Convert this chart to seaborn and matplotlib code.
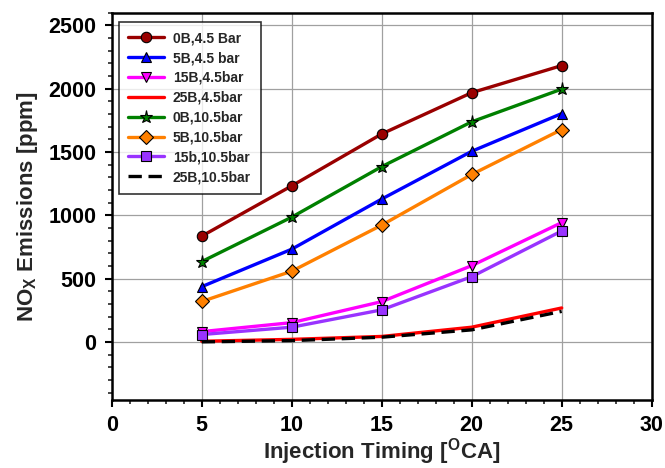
import numpy as np
import pandas as pd
import matplotlib
matplotlib.use("Agg")
import matplotlib.pyplot as plt
import seaborn as sns

# Injection timing [deg CA]
timing = [5, 10, 15, 20, 25]

# NOx emissions [ppm]
nox_0b_45 = [835, 1232, 1642, 1968, 2182]
nox_5b_45 = [436, 732, 1128, 1505, 1803]
nox_15b_45 = [81, 152, 318, 602, 942]
nox_25b_45 = [5, 20, 43, 116, 268]
nox_0b_105 = [634, 985, 1384, 1738, 1996]
nox_5b_105 = [319, 558, 922, 1322, 1677]
nox_15b_105 = [58, 116, 253, 515, 876]
nox_25b_105 = [0, 10, 37, 95, 241]

labels = ["0B,4.5 Bar", "5B,4.5 bar", "15B,4.5bar", "25B,4.5bar",
          "0B,10.5bar", "5B,10.5bar", "15b,10.5bar", "25B,10.5bar"]
series = [nox_0b_45, nox_5b_45, nox_15b_45, nox_25b_45,
          nox_0b_105, nox_5b_105, nox_15b_105, nox_25b_105]

# style per series: colour, marker, linestyle
styles = [
    ("#990000", "o", "-"),
    ("#0000FF", "^", "-"),
    ("#FF00FF", "v", "-"),
    ("#FF0000", None, "-"),
    ("#008000", "*", "-"),
    ("#FF8000", "D", "-"),
    ("#9933FF", "s", "-"),
    ("#000000", None, (0, (4, 2))),
]

sns.set_style("white")
plt.rcParams["font.family"] = ["Liberation Sans", "DejaVu Sans"]
plt.rcParams["font.weight"] = "bold"
plt.rcParams["mathtext.fontset"] = "custom"
plt.rcParams["mathtext.rm"] = "Liberation Sans:bold"
plt.rcParams["mathtext.bf"] = "Liberation Sans:bold"
plt.rcParams["mathtext.default"] = "bf"

fig = plt.figure(figsize=(6.65, 4.68), dpi=100)
ax = fig.add_axes([0.168, 0.145, 0.812, 0.828])

for lab, vals, (col, mk, ls) in zip(labels, series, styles):
    df = pd.DataFrame({"timing": timing, "nox": vals})
    ms = 9.5 if mk == "*" else 7.5
    sns.lineplot(data=df, x="timing", y="nox", ax=ax, color=col, lw=2.4,
                 linestyle=ls, marker=mk, markersize=ms, markeredgecolor="black",
                 markeredgewidth=0.8, label=lab)

ax.set_xlim(0, 30)
ax.set_ylim(-460, 2600)
ax.set_xticks(np.arange(0, 31, 5))
ax.set_xticks(np.arange(0, 31, 1), minor=True)
ax.set_yticks(np.arange(0, 2501, 500))
ax.set_yticks(np.arange(-400, 2601, 100), minor=True)
ax.grid(True, which="major", color="#a0a0a0", lw=0.9)
ax.tick_params(which="major", direction="out", length=5, width=1.5, labelsize=15.5,
               bottom=True, left=True, colors="black", pad=6)
ax.tick_params(which="minor", direction="out", length=3, width=1.2,
               bottom=True, left=True)
for lbl in ax.get_xticklabels() + ax.get_yticklabels():
    lbl.set_fontweight("bold")
for sp in ax.spines.values():
    sp.set_color("black")
    sp.set_linewidth(1.8)

ax.set_xlabel(r"Injection Timing [$^{O}$CA]", fontsize=16, fontweight="bold", labelpad=0)
ax.set_ylabel(r"NO$_{X}$ Emissions [ppm]", fontsize=16, fontweight="bold", labelpad=6)

leg = ax.legend(loc="upper left", bbox_to_anchor=(0.0, 0.995), fontsize=10,
                frameon=True, fancybox=False, handlelength=2.6, labelspacing=0.42,
                borderpad=0.7, handletextpad=0.6)
leg.get_frame().set_edgecolor("black")
leg.get_frame().set_linewidth(1.2)
for t in leg.get_texts():
    t.set_fontweight("bold")

fig.savefig("out.png", dpi=100)
